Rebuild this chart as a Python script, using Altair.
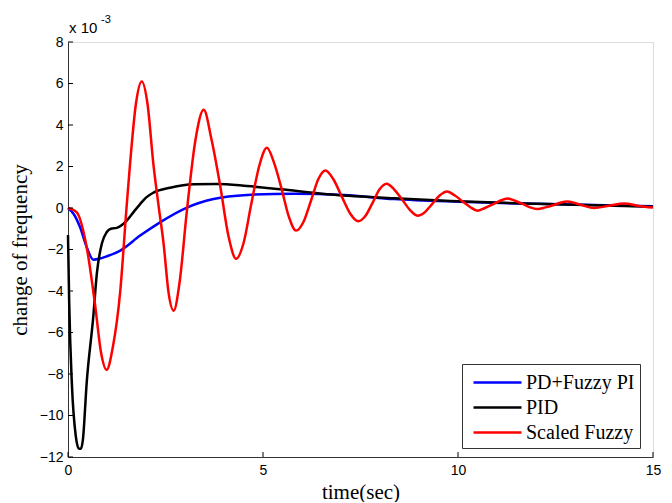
import altair as alt
import pandas as pd

series_names = ["PD+Fuzzy PI", "PID", "Scaled Fuzzy"]
series_colors = ["#0000ff", "#000000", "#ff0000"]

x_ticks = [0, 5, 10, 15]
y_ticks = [-12, -10, -8, -6, -4, -2, 0, 2, 4, 6, 8]

t_blue = [0, 0.15, 0.31, 0.48, 0.65, 0.8, 0.99, 1.34, 1.85, 2.36, 3.05, 3.73,
          4.59, 5.79, 7.07, 8.36, 10.0, 12.0, 15.0]
v_blue = [0, -0.3, -0.93, -1.89, -2.49, -2.45, -2.33, -2.05, -1.33, -0.69, 0.02,
          0.43, 0.63, 0.69, 0.63, 0.43, 0.3, 0.2, 0.08]

t_black = [0, 0.03, 0.1, 0.2, 0.28, 0.33, 0.38, 0.48, 0.65, 0.74, 0.87, 0.99,
           1.1, 1.25, 1.4, 1.51, 1.7, 1.85, 2.0, 2.19, 2.62, 3.22, 3.82, 4.59,
           5.45, 6.65, 8.36, 9.81, 12.0, 15.0]
v_black = [-1.3, -4.5, -8.5, -11.0, -11.6, -11.6, -11.2, -8.4, -5.2, -3.15, -1.7,
           -1.17, -1.0, -0.96, -0.8, -0.6, -0.15, 0.19, 0.5, 0.74, 0.98, 1.15,
           1.16, 1.06, 0.9, 0.66, 0.47, 0.34, 0.2, 0.06]

t_red = [0, 0.22, 0.48, 0.69, 0.85, 0.99, 1.15, 1.34, 1.50, 1.59, 1.74, 1.89,
         2.04, 2.19, 2.33, 2.45, 2.58, 2.71, 2.86, 3.05, 3.27, 3.48, 3.68, 3.90,
         4.12, 4.31, 4.50, 4.70, 4.90, 5.10, 5.28, 5.48, 5.66, 5.85, 6.03, 6.23,
         6.42, 6.60, 6.80, 7.02, 7.23, 7.44, 7.62, 7.81, 7.99, 8.17, 8.36, 8.57,
         8.77, 8.96, 9.15, 9.34, 9.53, 9.72, 9.92, 10.11, 10.31, 10.50, 10.69,
         10.89, 11.08, 11.27, 11.46, 11.66, 11.85, 12.04, 12.24, 12.43, 12.62,
         12.81, 13.15, 13.49, 13.88, 14.26, 14.63, 15.0]
v_red = [0, -0.2, -1.9, -4.6, -7.0, -7.8, -6.7, -4.0, 0.0, 2.1, 5.0, 6.1,
         5.0, 2.1, 0.0, -1.7, -4.1, -4.95, -3.6, -0.1, 3.3, 4.73, 3.3, 1.1,
         -1.4, -2.45, -1.7, 0.2, 2.0, 2.9, 2.2, 0.9, -0.4, -1.09, -0.7, 0.35,
         1.4, 1.81, 1.4, 0.55, -0.25, -0.64, -0.4, 0.25, 0.9, 1.17, 0.9, 0.4,
         -0.1, -0.37, -0.2, 0.2, 0.6, 0.79, 0.6, 0.33, 0.05, -0.13, 0.0,
         0.17, 0.35, 0.46, 0.35, 0.2, 0.03, -0.05, 0.03, 0.13, 0.25,
         0.31, 0.15, 0.0, 0.11, 0.22, 0.1, 0.02]

frames = []
for name, ts, vs in [(series_names[0], t_blue, v_blue),
                     (series_names[1], t_black, v_black),
                     (series_names[2], t_red, v_red)]:
    frames.append(pd.DataFrame({"t": ts, "v": vs, "series": name}))
df = pd.concat(frames, ignore_index=True)

W, H = 585, 415
xs = alt.Scale(domain=[0, 15], nice=False)
ys = alt.Scale(domain=[-12, 8], nice=False)

x_axis = alt.Axis(
    values=x_ticks, title="time(sec)", grid=False, tickSize=0, labelPadding=6,
    labelFont="Liberation Sans", labelFontSize=14, labelColor="#000",
    titleFont="Liberation Serif", titleFontSize=21, titleFontWeight="normal",
    titleColor="#000", titlePadding=4, domainColor="#333", labelFlush=False,
    format="d")
y_axis = alt.Axis(
    values=y_ticks, title="change of frequency", grid=False, tickSize=0,
    labelPadding=5, labelFont="Liberation Sans", labelFontSize=14,
    labelColor="#000", titleFont="Liberation Serif", titleFontSize=21,
    titleFontWeight="normal", titleColor="#000", titlePadding=9,
    domainColor="#333", format="d")

lines = alt.Chart(df).mark_line(strokeWidth=2.5, interpolate="monotone").encode(
    x=alt.X("t:Q", scale=xs, axis=x_axis),
    y=alt.Y("v:Q", scale=ys, axis=y_axis),
    color=alt.Color("series:N", sort=series_names,
                    scale=alt.Scale(domain=series_names, range=series_colors),
                    legend=alt.Legend(title=None, orient="none", legendX=394,
                                      legendY=322, symbolType="M-2,0L2,0",
                                      symbolSize=576, symbolStrokeWidth=2.5,
                                      labelFont="Liberation Serif",
                                      labelFontSize=20, labelColor="#000",
                                      strokeColor="#333", fillColor="white",
                                      padding=5, rowPadding=1, labelLimit=300,
                                      labelOffset=15, symbolOffset=17)),
)

xt = alt.Chart(pd.DataFrame({"t": x_ticks})).mark_rule(color="#000", strokeWidth=1).encode(
    x=alt.X("t:Q", scale=xs, axis=x_axis),
    y=alt.value(H), y2=alt.value(H - 5))

yt = alt.Chart(pd.DataFrame({"v": y_ticks})).mark_rule(color="#000", strokeWidth=1).encode(
    y=alt.Y("v:Q", scale=ys, axis=y_axis),
    x=alt.value(0), x2=alt.value(5))

exp_base = alt.Chart(pd.DataFrame({"s": ["x 10"]})).mark_text(
    align="left", baseline="alphabetic", font="Liberation Sans", fontSize=15,
    color="#000").encode(text="s:N", x=alt.value(1), y=alt.value(-9))
exp_sup = alt.Chart(pd.DataFrame({"s": ["-3"]})).mark_text(
    align="left", baseline="alphabetic", font="Liberation Sans", fontSize=11,
    color="#000").encode(text="s:N", x=alt.value(33), y=alt.value(-19))

chart = alt.layer(lines, xt, yt, exp_base, exp_sup).properties(
    width=W, height=H,
    autosize=alt.AutoSizeParams(type="none"),
    padding={"left": 60, "top": 34, "right": 11, "bottom": 45},
).configure_view(stroke="transparent", strokeWidth=0).configure(background="white")

chart.save("out.html", embed_options={"renderer": "svg", "actions": False})
